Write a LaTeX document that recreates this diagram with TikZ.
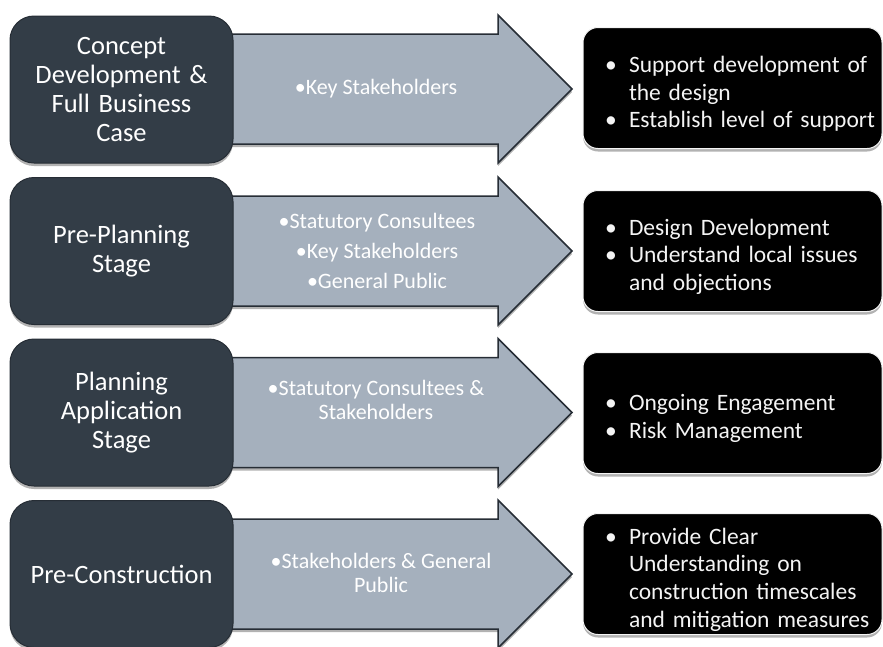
\documentclass[tikz,border=0pt]{standalone}
\usepackage{fontspec}
\setmainfont{Carlito}
\usetikzlibrary{shadows}

\definecolor{slate}{RGB}{51,61,71}
\definecolor{steel}{RGB}{165,176,189}
\definecolor{edge}{RGB}{38,45,53}
\definecolor{paper}{RGB}{244,244,244}

% bulleted paragraph with hanging indent, ragged right, no hyphenation
\newcommand{\bitem}[1]{\par\raggedright\hyphenpenalty=10000\exhyphenpenalty=10000
  \hangindent=41.5pt\hangafter=1\noindent\makebox[41.5pt][l]{\hspace{17.5pt}\textbullet}#1\par}

\begin{document}
\begin{tikzpicture}[x=1pt,y=-1pt,
  softshadow/.style={drop shadow={shadow xshift=0pt,shadow yshift=-3pt,opacity=0.3,fill=black}},
  stage/.style={draw=edge,line width=1pt,fill=slate,rounded corners=24pt,
    minimum width=223pt,minimum height=147pt,inner sep=0pt,
    text=white,align=center,text width=215pt,
    font=\fontsize{26.5}{28.7}\selectfont,softshadow},
  flow/.style={draw=edge,line width=1.5pt,fill=steel,line join=miter,softshadow},
  who/.style={text=white,align=center,inner sep=0pt,
    font=\fontsize{22}{24}\selectfont},
  aim/.style={draw=paper,line width=1pt,fill=black,rounded corners=15pt,
    minimum width=299pt,minimum height=121pt,inner sep=0pt,
    text=paper,text width=290pt,
    font=\fontsize{23.5}{27.8}\selectfont,softshadow},
]
\useasboundingbox (0,0) rectangle (883,646);

% block arrows, one per stage (drawn first so the stage boxes cover their tails)
\foreach \cy in {89,251,412.5,574}{
  \draw[flow] (225,\cy-55) -- (498,\cy-55) -- (498,\cy-74) -- (572,\cy)
    -- (498,\cy+74) -- (498,\cy+55) -- (225,\cy+55) -- cycle;
}

% stage boxes
\node[stage] (s1) at (121.5,89.5) {Concept\\Development \&\\Full Business\\Case};
\node[stage] (s2) at (121.5,251) {Pre-Planning\\Stage};
\node[stage] (s3) at (121.5,412.5) {Planning\\Application\\Stage};
\node[stage] (s4) at (121.5,574) {Pre-Construction};

% who is engaged
\node[who] (w1) at (376,89) {\textbullet Key Stakeholders};
\node[who] (w2) at (377,251) {\textbullet Statutory Consultees\\[6pt]\textbullet Key Stakeholders\\[6pt]\textbullet General Public};
\node[who] (w3) at (376,400) {\textbullet Statutory Consultees \&\\Stakeholders};
\node[who] (w4) at (381,573) {\textbullet Stakeholders \& General\\Public};

% objectives
\node[aim] (a1) at (732.5,88) {\bitem{Support development of\newline the design}\bitem{Establish level of support}};
\node[aim] (a2) at (732.5,251) {\bitem{Design Development}\bitem{Understand local issues\newline and objections}};
\node[aim] (a3) at (732.5,413) {\bitem{Ongoing Engagement}\bitem{Risk Management}};
\node[aim] (a4) at (732.5,574) {\bitem{Provide Clear\newline Understanding on\newline construction timescales\newline and mitigation measures}};
\end{tikzpicture}
\end{document}
